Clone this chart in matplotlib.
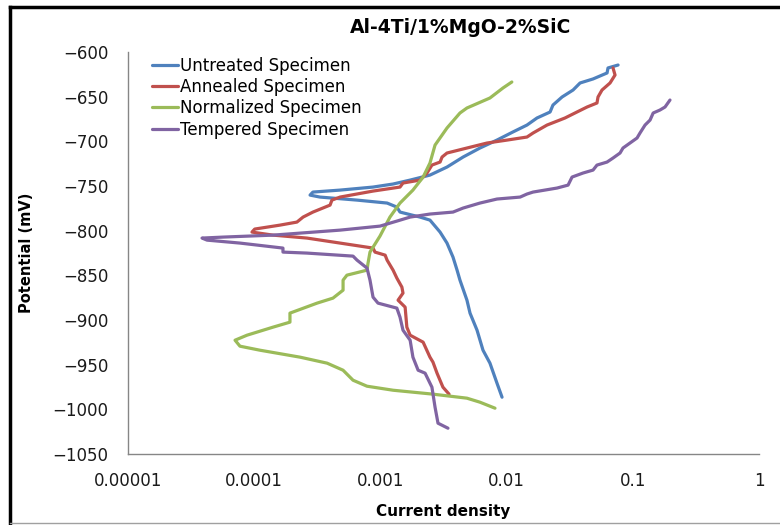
import numpy as np
import matplotlib
matplotlib.use('Agg')
import matplotlib.pyplot as plt
from matplotlib.lines import Line2D

plt.rcParams['font.family'] = ['DejaVu Sans']

# 
# Data (current density, potential in mV)
untreated_i = [0.0764, 0.0636, 0.0625, 0.0484, 0.0382, 0.0336, 0.0275, 0.0233, 0.0221, 0.0174,
               0.0145, 0.0112, 0.00839, 0.00615, 0.00452, 0.00337, 0.00247, 0.00172, 0.00126, 0.000874,
               0.000479, 0.000292, 0.000277, 0.000332, 0.000653, 0.00113, 0.00135, 0.00143, 0.00206, 0.00247,
               0.00297, 0.00337, 0.00376, 0.00405, 0.00427, 0.00485, 0.00513, 0.00583, 0.0065, 0.00738,
               0.00839, 0.0092]
untreated_e = [-614.6, -617.9, -623.5, -630.2, -634.7, -642.6, -650.4, -659.4, -667.2, -673.9,
               -681.8, -689.6, -698.6, -707.5, -717.6, -728.8, -737.8, -743.4, -747.8, -751.2,
               -754.6, -756.8, -760.2, -762.4, -765.8, -769.1, -773.6, -779.2, -784.8, -788.2,
               -801.6, -813.9, -829.6, -844.2, -855.4, -877.8, -892.3, -911.4, -933.8, -948.3,
               -970.7, -986.4]

annealed_i = [0.0697, 0.0723, 0.066, 0.057, 0.053, 0.052, 0.0434, 0.0361, 0.029, 0.0209,
              0.0162, 0.0145, 0.0101, 0.0070, 0.00485, 0.00337, 0.00308, 0.00297, 0.00256, 0.00234,
              0.00206, 0.00151, 0.00143, 0.000874, 0.000479, 0.000413, 0.000399, 0.000292, 0.000244, 0.000218,
              0.00016, 0.000101, 0.000096, 0.000141, 0.000262, 0.000479, 0.000874, 0.000906, 0.00109, 0.00113,
              0.00126, 0.00135, 0.00148, 0.00151, 0.00138, 0.00157, 0.00162, 0.00172, 0.00218, 0.00247,
              0.00261, 0.00281, 0.00313, 0.0035]
annealed_e = [-617.9, -625.8, -634.7, -642.6, -650.4, -657.1, -661.6, -667.2, -673.9, -681.8,
              -690.7, -695.2, -698.6, -701.9, -707.5, -713.1, -717.6, -723.2, -726.6, -735.5,
              -743.4, -746.7, -751.2, -755.7, -762.4, -765.8, -771.4, -779.2, -784.8, -790.4,
              -793.8, -798.2, -801.6, -805.0, -808.3, -813.9, -819.5, -824.0, -827.4, -833.0,
              -844.2, -853.1, -863.2, -869.9, -877.8, -885.6, -908.0, -917.0, -924.8, -941.6,
              -947.2, -959.5, -975.2, -983.0]

normalized_i = [0.011, 0.00936, 0.00738, 0.00485, 0.00427, 0.00337, 0.00271, 0.00247, 0.00218, 0.00181,
                0.00143, 0.00119, 0.000993, 0.000827, 0.000798, 0.000783, 0.000543, 0.000506, 0.000506, 0.000421,
                0.000315, 0.000192, 0.000192, 0.000141, 0.0000877, 0.0000705, 0.0000771, 0.000111, 0.000231, 0.000378,
                0.000506, 0.000607, 0.000783, 0.00126, 0.00261, 0.00485, 0.00615, 0.00809]
normalized_e = [-633.6, -640.3, -651.5, -662.7, -668.3, -685.1, -704.2, -724.3, -740.0, -754.6,
                -769.1, -784.8, -806.0, -824.0, -836.3, -844.2, -849.8, -855.4, -866.6, -875.5,
                -881.1, -892.3, -902.4, -908.0, -917.0, -922.6, -929.3, -933.8, -941.6, -948.3,
                -956.2, -967.4, -974.1, -978.6, -983.0, -987.5, -992.0, -998.7]

tempered_i = [0.197, 0.180, 0.164, 0.145, 0.137, 0.125, 0.114, 0.108, 0.095, 0.0836,
              0.0792, 0.0697, 0.0625, 0.052, 0.0484, 0.0403, 0.033, 0.0307, 0.0251, 0.0162,
              0.0145, 0.0128, 0.00839, 0.00615, 0.00452, 0.00376, 0.00247, 0.00172, 0.00135, 0.000993,
              0.000479, 0.000141, 0.0000566, 0.0000386, 0.0000423, 0.0000771, 0.000169, 0.000169, 0.000262, 0.000607,
              0.000653, 0.000783, 0.000827, 0.000874, 0.000957, 0.00135, 0.00143, 0.00151, 0.00172, 0.00181,
              0.00199, 0.00226, 0.00256, 0.00271, 0.00286, 0.00343]
tempered_e = [-653.8, -661.6, -665.0, -668.3, -676.2, -681.8, -690.7, -696.3, -701.9, -707.5,
              -713.1, -718.7, -723.2, -726.6, -732.2, -735.5, -740.0, -749.0, -752.3, -756.8,
              -759.0, -762.4, -764.6, -769.1, -774.7, -779.2, -781.4, -784.8, -789.3, -794.9,
              -799.4, -805.0, -807.2, -808.3, -810.6, -813.9, -819.5, -824.0, -825.1, -828.5,
              -833.0, -841.9, -855.4, -874.4, -881.1, -886.7, -896.8, -911.4, -922.6, -941.6,
              -956.2, -959.5, -975.2, -997.6, -1015.5, -1021.1]

series = [
    ('Untreated Specimen', untreated_i, untreated_e, '#4F81BD'),
    ('Annealed Specimen', annealed_i, annealed_e, '#C0504D'),
    ('Normalized Specimen', normalized_i, normalized_e, '#9BBB59'),
    ('Tempered Specimen', tempered_i, tempered_e, '#8064A2'),
]

x_ticks = [0.00001, 0.0001, 0.001, 0.01, 0.1, 1]
x_tick_labels = ['0.00001', '0.0001', '0.001', '0.01', '0.1', '1']
y_ticks = np.arange(-1050, -599, 50)

# 
# Make plot
fig = plt.figure(figsize=(7.8, 5.25), dpi=100)
ax = fig.add_axes([0.1641, 0.1352, 0.8090, 0.7658])

for name, xi, ye, col in series:
    ax.plot(xi, ye, color=col, linewidth=2.3, label=name, solid_capstyle='round', solid_joinstyle='round')

ax.set_xscale('log')
ax.set_xlim(1e-5, 1)
ax.set_ylim(-1050, -600)
ax.set_xticks(x_ticks)
ax.set_xticklabels(x_tick_labels)
ax.minorticks_off()
ax.set_yticks(y_ticks)
ax.tick_params(axis='both', length=0, labelsize=12, colors='#1a1a1a')
ax.tick_params(axis='y', pad=14)
ax.tick_params(axis='x', pad=13)

for side in ['top', 'right']:
    ax.spines[side].set_visible(False)
for side in ['left', 'bottom']:
    ax.spines[side].set_color('#868686')
    ax.spines[side].set_linewidth(1.0)

ax.set_xlabel('Current density', fontsize=11, fontweight='bold', labelpad=10)
ax.set_ylabel('Potential (mV)', fontsize=10.5, fontweight='bold', labelpad=13)
fig.text(0.59, 0.948, 'Al-4Ti/1%MgO-2%SiC', fontsize=13.5, fontweight='bold', ha='center', va='center')

leg = ax.legend(loc='upper left', bbox_to_anchor=(0.027, 1.005), frameon=False, fontsize=12,
                handlelength=1.6, handletextpad=0.1, labelspacing=0.2, borderaxespad=0)

# 
# Frame around the picture
fig.add_artist(Line2D([0.0128, 1.0], [0.9867, 0.9867], color='black', linewidth=2.5))
fig.add_artist(Line2D([0.0128, 0.0128], [0.0, 0.9867], color='black', linewidth=2.5))
fig.add_artist(Line2D([0.0128, 1.0], [0.004, 0.004], color='#A0A0A0', linewidth=1.0))

plt.savefig('out.png', dpi=100)
